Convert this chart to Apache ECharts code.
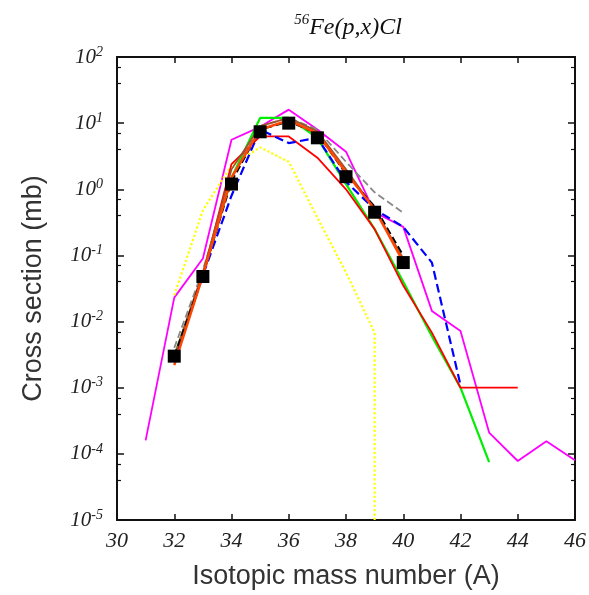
<!DOCTYPE html>
<html>
<head>
<meta charset="utf-8">
<script src="https://cdn.jsdelivr.net/npm/echarts@6/dist/echarts.min.js"></script>
<style>
  html, body { margin: 0; padding: 0; background: #fff; }
  #chart { width: 589px; height: 595px; }
</style>
</head>
<body>
<div id="chart"></div>
<script>
// 56Fe(p,x)Cl 同位素产额截面
const xTicks = [30, 32, 34, 36, 38, 40, 42, 44, 46];

// 实验数据（黑色方块）
const expA = [32, 33, 34, 35, 36, 37, 38, 39, 40];
const expCS = [0.003, 0.048, 1.2, 7.4, 10, 6.0, 1.55, 0.45, 0.078];

// 各模型计算（按同位素质量数 A 取值）
const magentaA = [31, 32, 33, 34, 35, 36, 37, 38, 39, 40, 41, 42, 43, 44, 45, 46];
const magentaCS = [1.6e-4, 0.023, 0.09, 5.6, 8.8, 16, 8, 3.7, 0.45, 0.27, 0.0145, 0.0072, 2.1e-4, 7.8e-5, 1.55e-4, 8e-5];

const yellowA = [32, 33, 34, 35, 36, 37, 38, 39, 39];
const yellowCS = [0.025, 0.48, 2.3, 4.3, 2.6, 0.37, 0.055, 0.0068, 1e-5];

const blueA = [32, 33, 34, 35, 36, 37, 38, 39, 40, 41, 42];
const blueCS = [0.0025, 0.05, 0.8, 8, 5, 6, 1.3, 0.5, 0.27, 0.078, 0.0011];

const greenA = [32, 33, 34, 35, 36, 37, 38, 39, 40, 41, 42, 43];
const greenCS = [0.003, 0.05, 1.5, 12, 12, 6, 1.2, 0.25, 0.04, 0.006, 0.001, 7.5e-5];

const redA = [32, 33, 34, 35, 36, 37, 38, 39, 40, 41, 42, 43, 44];
const redCS = [0.0025, 0.05, 2.4, 6.3, 6.3, 3, 1, 0.25, 0.035, 0.0068, 0.001, 0.001, 0.001];

const orangeA = [32, 33, 34, 35, 36, 37, 38, 39, 40];
const orangeCS = [0.0022, 0.05, 1.5, 8, 11, 7, 1.8, 0.5, 0.08];

const grayA = [32, 33, 34, 35, 36, 37, 38, 39, 40];
const grayCS = [0.004, 0.06, 1.5, 9, 12, 8, 2.6, 0.9, 0.44];

const blackA = [32, 33, 34, 35, 36, 37, 38, 39, 40];
const blackCS = [0.003, 0.05, 1.3, 8, 10.5, 7, 1.7, 0.55, 0.1];

const brownA = [32, 33, 34, 35, 36, 37, 38, 39, 40];
const brownCS = [0.003, 0.055, 2.0, 9, 12, 7.5, 2.0, 0.5, 0.09];

const pairs = (xs, ys) => xs.map((x, i) => [x, ys[i]]);

const chart = echarts.init(document.getElementById('chart'));

const serif = 'Liberation Serif';
const sans = 'Liberation Sans';

function line(name, xs, ys, color, width, type) {
  return {
    name: name,
    type: 'line',
    data: pairs(xs, ys),
    symbol: 'none',
    lineStyle: { color: color, width: width, type: type || 'solid' },
    z: 3,
  };
}

const option = {
  animation: false,
  title: {
    text: '{s|56}{m|Fe(p,x)Cl}',
    left: 343,
    textAlign: 'center',
    top: 8,
    textStyle: {
      fontWeight: 'normal',
      rich: {
        s: { fontFamily: serif, fontStyle: 'italic', fontWeight: 'normal', fontSize: 15, color: '#111', verticalAlign: 'top' },
        m: { fontFamily: serif, fontStyle: 'italic', fontWeight: 'normal', fontSize: 24, color: '#111', lineHeight: 30 },
      },
    },
  },
  grid: { left: 117, right: 13, top: 57, bottom: 73, containLabel: false },
  xAxis: [{
    type: 'value',
    min: 30, max: 46, interval: 2,
    name: 'Isotopic mass number (A)',
    nameLocation: 'middle',
    nameGap: 43,
    nameTextStyle: { fontFamily: sans, fontSize: 27, color: '#333' },
    axisLine: { lineStyle: { color: '#111', width: 2 } },
    axisTick: { inside: true, length: 6, lineStyle: { color: '#111', width: 1.5 } },
    axisLabel: { fontFamily: serif, fontStyle: 'italic', fontSize: 22, color: '#222', margin: 10 },
    splitLine: { show: false },
  }, {
    type: 'value',
    position: 'top',
    min: 30, max: 46, interval: 2,
    axisLine: { lineStyle: { color: '#111', width: 2 } },
    axisTick: { inside: true, length: 6, lineStyle: { color: '#111', width: 1.5 } },
    axisLabel: { show: false },
    splitLine: { show: false },
  }],
  yAxis: [{
    type: 'log',
    logBase: 10,
    min: 1e-5, max: 100,
    name: 'Cross section (mb)',
    nameLocation: 'middle',
    nameGap: 70,
    nameTextStyle: { fontFamily: sans, fontSize: 27, color: '#333' },
    axisLine: { lineStyle: { color: '#111', width: 2 } },
    axisTick: { inside: true, length: 7, lineStyle: { color: '#111', width: 1.5 } },
    minorTick: { show: true, splitNumber: 3, length: 4, lineStyle: { color: '#111', width: 1.2 } },
    axisLabel: {
      margin: 14,
      formatter: v => '{a|10}{b|' + Math.round(Math.log10(v)) + '}',
      rich: {
        a: { fontFamily: serif, fontStyle: 'italic', fontSize: 21, color: '#222', lineHeight: 24 },
        b: { fontFamily: serif, fontStyle: 'italic', fontSize: 14, color: '#222', verticalAlign: 'top' },
      },
    },
    splitLine: { show: false },
    minorSplitLine: { show: false },
  }, {
    type: 'log',
    logBase: 10,
    position: 'right',
    min: 1e-5, max: 100,
    axisLine: { lineStyle: { color: '#111', width: 2 } },
    axisTick: { inside: true, length: 7, lineStyle: { color: '#111', width: 1.5 } },
    minorTick: { show: true, splitNumber: 3, length: 4, lineStyle: { color: '#111', width: 1.2 } },
    axisLabel: { show: false },
    splitLine: { show: false },
    minorSplitLine: { show: false },
  }],
  series: [
    line('magenta', magentaA, magentaCS, '#ff00ff', 1.8),
    line('yellow', yellowA, yellowCS, '#ffff00', 2.2, 'dotted'),
    line('green', greenA, greenCS, '#00ee00', 2.2),
    line('red', redA, redCS, '#ff0000', 1.8),
    line('blue', blueA, blueCS, '#0000ff', 2.2, 'dashed'),
    line('gray', grayA, grayCS, '#888888', 1.8, 'dashed'),
    line('brown', brownA, brownCS, '#a0522d', 1.8),
    line('black', blackA, blackCS, '#000000', 1.8, 'dashed'),
    line('orange', orangeA, orangeCS, '#ff4500', 2.5),
    {
      name: 'exp',
      type: 'scatter',
      data: pairs(expA, expCS),
      symbol: 'rect',
      symbolSize: 13,
      itemStyle: { color: '#000', opacity: 1 },
      z: 5,
    },
  ],
};

chart.setOption(option);
</script>
</body>
</html>
